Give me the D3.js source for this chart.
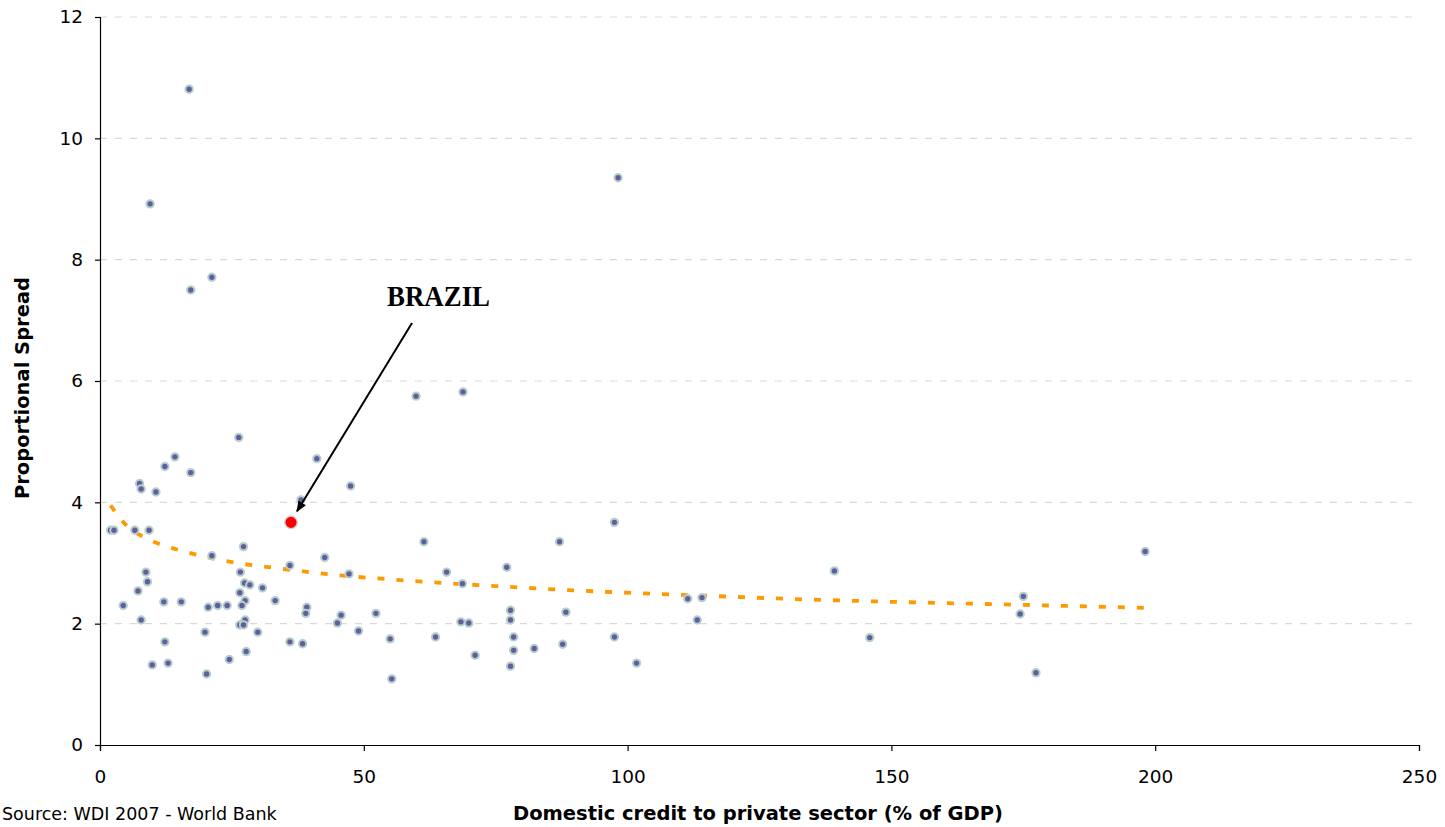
<!DOCTYPE html>
<html>
<head>
<meta charset="utf-8">
<script src="https://cdn.jsdelivr.net/npm/d3@7"></script>
<style>
  html, body { margin: 0; padding: 0; background: #ffffff; }
  svg { display: block; }
  text { font-family: "DejaVu Sans", Verdana, sans-serif; fill: #000; }
</style>
</head>
<body>
<svg id="chart" width="1445" height="827"></svg>
<script>
// Domestic credit to private sector (% of GDP) per country
const creditPct = [
  16.9, 9.5, 98.2, 21.2, 17.2, 59.9, 68.8, 26.3, 14.2, 12.3,
  17.2, 7.5, 7.8, 10.6, 41.1, 47.5, 38.1, 2.0, 2.65, 6.6,
  9.3, 27.2, 21.2, 42.6, 36.0, 26.6, 8.7, 47.2, 9.0, 27.4,
  28.4, 30.8, 7.2, 26.5, 27.5, 33.2, 4.4, 12.1, 15.4, 20.5,
  22.3, 24.1, 26.9, 39.2, 39.0, 45.7, 52.3, 7.8, 27.5, 26.5,
  27.2, 45.0, 29.9, 19.9, 49.0, 12.3, 36.0, 38.4, 55.0, 27.7,
  24.5, 9.9, 12.9, 20.2, 55.3, 97.5, 61.4, 87.1, 65.7, 77.1,
  68.7, 77.8, 88.3, 77.8, 68.4, 69.9, 63.6, 78.4, 97.5, 78.4,
  82.3, 87.7, 71.1, 77.8, 101.7, 139.2, 111.4, 114.1, 113.2, 145.9,
  198.1, 175.0, 174.4, 177.4
];
// Proportional spread per country (same order)
const spread = [
  10.81, 8.92, 9.35, 7.71, 7.50, 5.75, 5.82, 5.07, 4.75, 4.59,
  4.49, 4.31, 4.22, 4.17, 4.72, 4.27, 4.04, 3.54, 3.54, 3.54,
  3.54, 3.27, 3.12, 3.09, 2.96, 2.85, 2.85, 2.82, 2.69, 2.67,
  2.64, 2.59, 2.54, 2.51, 2.38, 2.38, 2.30, 2.36, 2.36, 2.27,
  2.30, 2.30, 2.30, 2.27, 2.17, 2.14, 2.17, 2.06, 2.06, 1.98,
  1.98, 2.01, 1.86, 1.86, 1.88, 1.70, 1.70, 1.67, 1.75, 1.54,
  1.41, 1.32, 1.35, 1.17, 1.09, 3.67, 3.35, 3.35, 2.85, 2.93,
  2.66, 2.22, 2.19, 2.06, 2.03, 2.01, 1.78, 1.78, 1.78, 1.56,
  1.59, 1.66, 1.48, 1.30, 1.35, 2.87, 2.41, 2.43, 2.06, 1.77,
  3.19, 2.45, 2.16, 1.19
];

// Highlighted country
const brazilCredit = 36.2;
const brazilSpread = 3.67;
const brazilLabel = "BRAZIL";

// Logarithmic trend line
const trendCredit = [2, 5, 8, 12, 16, 20, 26, 34, 45, 55, 65, 75, 85, 100, 115, 130, 150, 175, 198];
const trendSpread = [3.95, 3.62, 3.44, 3.29, 3.19, 3.10, 3.00, 2.91, 2.80, 2.73, 2.67, 2.62, 2.57, 2.51, 2.46, 2.41, 2.36, 2.31, 2.26];

// Axis ticks and titles
const xTicks = [0, 50, 100, 150, 200, 250];
const yTicks = [0, 2, 4, 6, 8, 10, 12];
const xTitle = "Domestic credit to private sector (% of GDP)";
const yTitle = "Proportional Spread";
const sourceNote = "Source: WDI 2007 - World Bank";

const svg = d3.select("#chart");
const plotLeft = 100, plotRight = 1419, plotTop = 17, plotBottom = 745;

const x = d3.scaleLinear().domain([0, 250]).range([plotLeft, plotRight]);
const y = d3.scaleLinear().domain([0, 12]).range([plotBottom, plotTop]);

// Dashed horizontal gridlines
svg.append("g")
  .selectAll("line")
  .data(yTicks.filter(d => d > 0))
  .join("line")
  .attr("x1", plotLeft).attr("x2", plotRight)
  .attr("y1", d => y(d)).attr("y2", d => y(d))
  .attr("stroke", "#d9d9d9")
  .attr("stroke-width", 1.2)
  .attr("stroke-dasharray", "7,8");

// Axes
const xAxis = svg.append("g")
  .attr("transform", `translate(0,${plotBottom})`)
  .call(d3.axisBottom(x).tickValues(xTicks).tickSize(6).tickPadding(19).tickFormat(d3.format("d")));
const yAxis = svg.append("g")
  .attr("transform", `translate(${plotLeft},0)`)
  .call(d3.axisLeft(y).tickValues(yTicks).tickSize(5).tickPadding(12).tickFormat(d3.format("d")));

[xAxis, yAxis].forEach(g => {
  g.select(".domain").attr("stroke", "#000").attr("stroke-width", 1.2);
  g.selectAll(".tick line").attr("stroke", "#000").attr("stroke-width", 1.2);
  g.selectAll(".tick text")
    .style("font-family", '"DejaVu Sans", Verdana, sans-serif')
    .style("font-size", "18.5px")
    .attr("fill", "#000");
});

// Trend line
const trendData = trendCredit.map((c, i) => [c, trendSpread[i]]);
svg.append("path")
  .datum(trendData)
  .attr("fill", "none")
  .attr("stroke", "#ff9900")
  .attr("stroke-width", 3.8)
  .attr("stroke-dasharray", "7,12")
  .attr("d", d3.line().x(d => x(d[0])).y(d => y(d[1])).curve(d3.curveMonotoneX));

// Country points
const points = creditPct.map((c, i) => ({ c, s: spread[i] }));
svg.append("g")
  .selectAll("circle")
  .data(points)
  .join("circle")
  .attr("cx", d => x(d.c))
  .attr("cy", d => y(d.s))
  .attr("r", 3.7)
  .attr("fill", "#625e99")
  .attr("stroke", "#b5cfcf")
  .attr("stroke-width", 2);

// Brazil
svg.append("circle")
  .attr("cx", x(brazilCredit))
  .attr("cy", y(brazilSpread))
  .attr("r", 6.3)
  .attr("fill", "#ff0000")
  .attr("stroke", "#c9d6d6")
  .attr("stroke-width", 1.4);

// Annotation arrow
svg.append("defs").append("marker")
  .attr("id", "arrowhead")
  .attr("viewBox", "0 0 10 10")
  .attr("refX", 9).attr("refY", 5)
  .attr("markerWidth", 5.5).attr("markerHeight", 5.5)
  .attr("orient", "auto")
  .append("path")
  .attr("d", "M0,1 L10,5 L0,9 Z")
  .attr("fill", "#000");

svg.append("line")
  .attr("x1", 412).attr("y1", 323)
  .attr("x2", x(brazilCredit) + 6).attr("y2", y(brazilSpread) - 11)
  .attr("stroke", "#000")
  .attr("stroke-width", 2)
  .attr("marker-end", "url(#arrowhead)");

svg.append("text")
  .attr("x", 387).attr("y", 306)
  .attr("textLength", 103)
  .attr("lengthAdjust", "spacingAndGlyphs")
  .style("font-family", '"Liberation Serif", "DejaVu Serif", serif')
  .style("font-weight", "bold")
  .style("font-size", "29px")
  .text(brazilLabel);

// Axis titles
svg.append("text")
  .attr("x", 758).attr("y", 820)
  .attr("text-anchor", "middle")
  .style("font-weight", "bold")
  .style("font-size", "19.5px")
  .text(xTitle);

svg.append("text")
  .attr("transform", `translate(29,388) rotate(-90)`)
  .attr("text-anchor", "middle")
  .style("font-weight", "bold")
  .style("font-size", "19.5px")
  .text(yTitle);

// Source note
svg.append("text")
  .attr("x", 2).attr("y", 820)
  .style("font-size", "17.5px")
  .text(sourceNote);
</script>
</body>
</html>
